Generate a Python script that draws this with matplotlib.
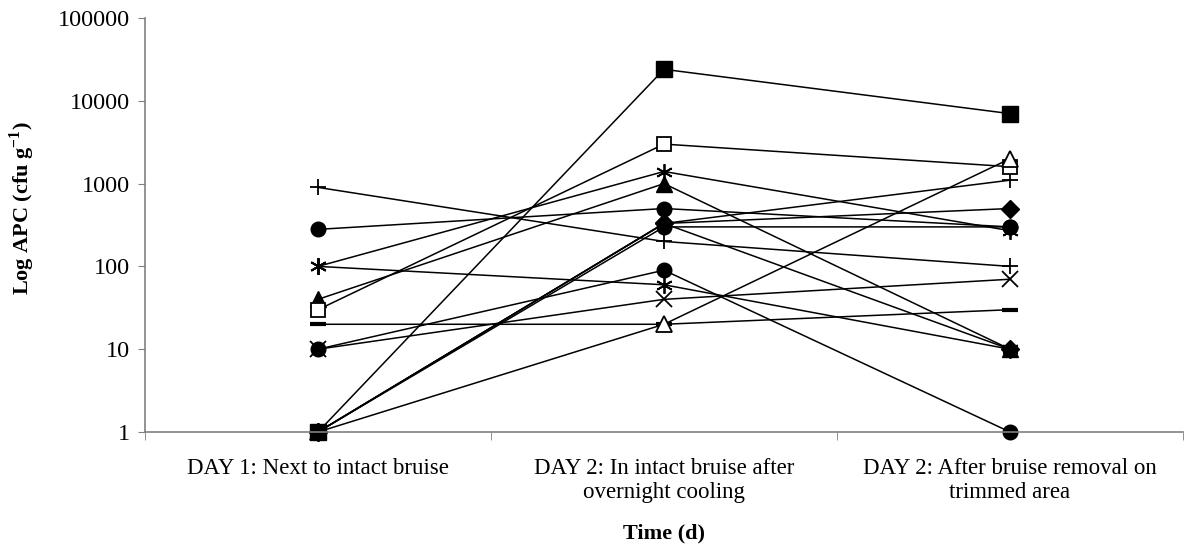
import matplotlib
matplotlib.use("Agg")
import matplotlib.pyplot as plt
import numpy as np

plt.rcParams['font.family'] = ['Liberation Serif', 'DejaVu Serif']
plt.rcParams['mathtext.fontset'] = 'custom'
plt.rcParams['mathtext.rm'] = 'Liberation Serif'
plt.rcParams['mathtext.bf'] = 'Liberation Serif:bold'

# categories on the x axis
categories = [
    "DAY 1: Next to intact bruise",
    "DAY 2: In intact bruise after\novernight cooling",
    "DAY 2: After bruise removal on\ntrimmed area",
]

# APC counts per sample (cfu/g)
diamond_a = [1, 330, 500]
diamond_b = [1, 330, 10]
triangle = [40, 1000, 10]
cross_x = [10, 40, 70]
star_a = [100, 1400, 270]
star_b = [100, 60, 10]
circle_a = [280, 500, 300]
circle_b = [10, 90, 1]
circle_c = [1, 300, 300]
plus_a = [900, 200, 100]
plus_b = [1, 330, 1100]
dash = [20, 20, 30]
open_square = [30, 3000, 1600]
open_triangle = [1, 20, 2000]
square = [1, 24000, 7000]

y_ticks = [1, 10, 100, 1000, 10000, 100000]
y_ticklabels = ["1", "10", "100", "1000", "10000", "100000"]

# (values, marker, size, facecolor, edgewidth)
series = [
    (diamond_a, "D", 9, "black", 1.0),
    (diamond_b, "D", 9, "black", 1.0),
    (triangle, "^", 11, "black", 1.0),
    (cross_x, "x", 11, "black", 1.3),
    (star_a, (6, 2, 0), 12, "black", 1.3),
    (star_b, (6, 2, 0), 12, "black", 1.3),
    (circle_a, "o", 10.5, "black", 1.0),
    (circle_b, "o", 10.5, "black", 1.0),
    (circle_c, "o", 10.5, "black", 1.0),
    (plus_a, "+", 12, "black", 1.3),
    (plus_b, "+", 12, "black", 1.3),
    (dash, "_", 12, "black", 3.0),
    (open_square, "s", 10.5, "white", 1.3),
    (open_triangle, "^", 11.5, "white", 1.3),
    (square, "s", 11.5, "black", 1.0),
]

fig = plt.figure(figsize=(11.88, 5.48), dpi=100)
ax = fig.add_axes([145 / 1188, 1 - 432 / 548, 1038 / 1188, 414 / 548])

x = np.arange(len(categories))
for vals, mk, ms, fc, mew in series:
    ax.plot(x, vals, color="black", linewidth=1.1, marker=mk, markersize=ms,
            markerfacecolor=fc, markeredgecolor="black", markeredgewidth=mew,
            clip_on=False)

ax.set_yscale("log")
ax.set_ylim(1, 100000)
ax.set_yticks(y_ticks)
ax.set_yticklabels(y_ticklabels)
ax.minorticks_off()
ax.set_xlim(-0.5, len(categories) - 0.5)
ax.set_xticks(x)
ax.set_xticklabels(categories, fontsize=16.5, linespacing=1.15)
ax.set_xticks(np.arange(-0.5, len(categories)), minor=True)
ax.tick_params(axis="x", which="major", length=0, pad=19)
ax.tick_params(axis="x", which="minor", length=6, color="#808080", direction="out")
ax.tick_params(axis="y", which="major", length=5, color="#808080", direction="out",
               labelsize=17.5, pad=6)

for side in ["top", "right"]:
    ax.spines[side].set_visible(False)
for side in ["left", "bottom"]:
    ax.spines[side].set_color("#808080")
    ax.spines[side].set_linewidth(1.2)

ax.set_xlabel("Time (d)", fontsize=16, fontweight="bold", labelpad=15)
ax.set_ylabel(r"Log APC (cfu g$^{\mathbf{-1}}$)", fontsize=16, fontweight="bold")
ax.yaxis.set_label_coords(-0.104, 0.54)

fig.savefig("out.png", dpi=100)
